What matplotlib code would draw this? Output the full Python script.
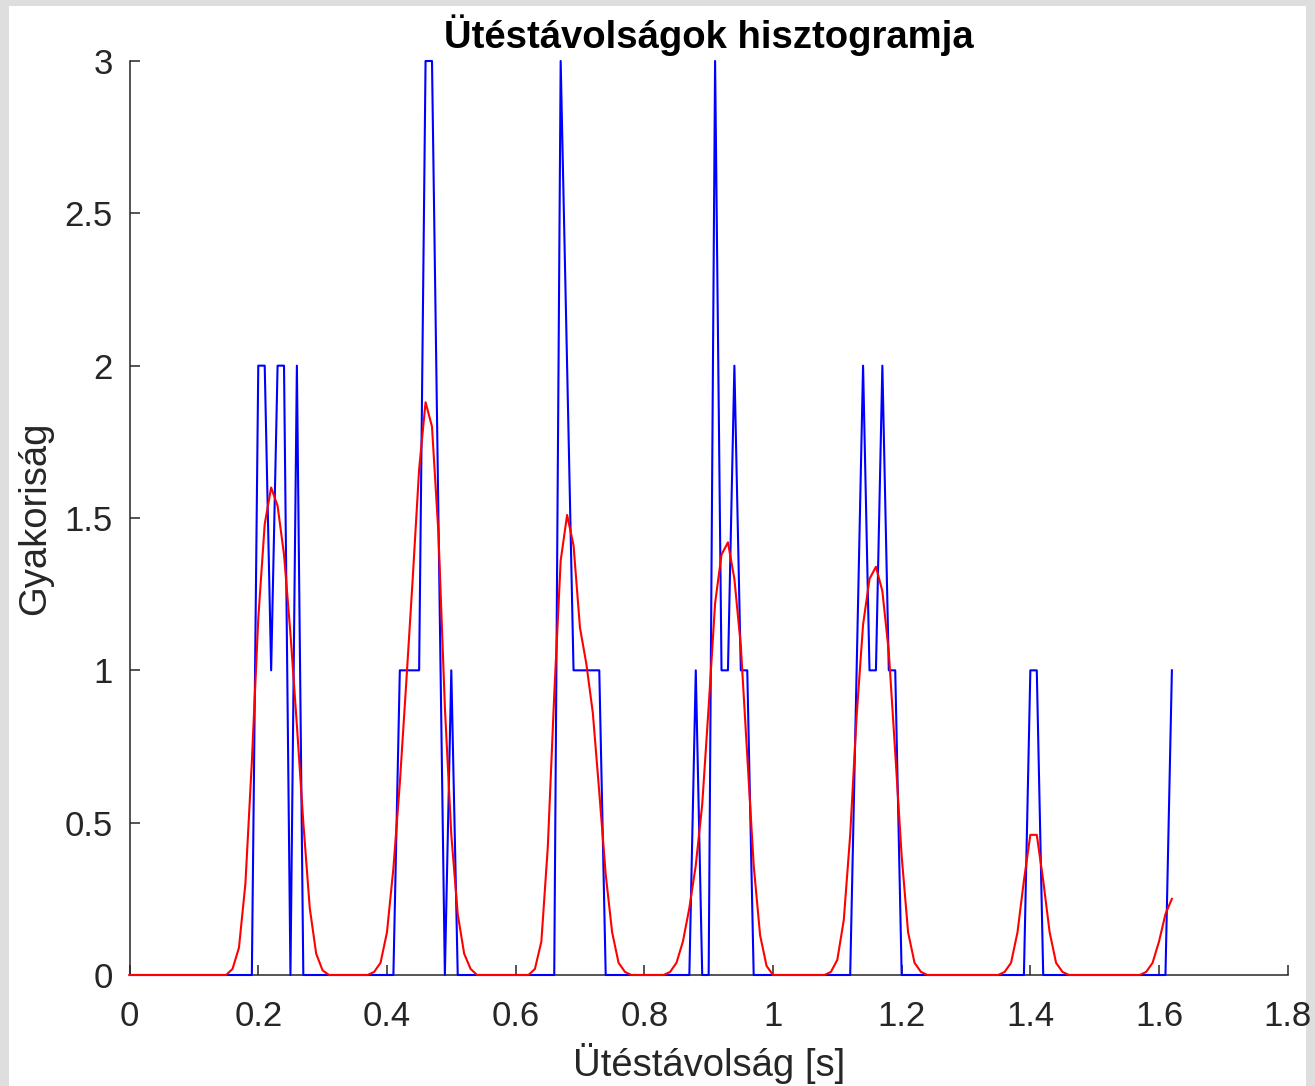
import numpy as np
import matplotlib
matplotlib.use("Agg")
import matplotlib.pyplot as plt
from matplotlib.patches import Rectangle

# ---- data (bin positions every 0.01 s from 0 to 1.62 s) ----
bin_start = 0.0
bin_step = 0.01
n_bins = 163

hist_counts = [
    0, 0, 0, 0, 0, 0, 0, 0, 0, 0,
    0, 0, 0, 0, 0, 0, 0, 0, 0, 0,
    2, 2, 1, 2, 2, 0, 2, 0, 0, 0,
    0, 0, 0, 0, 0, 0, 0, 0, 0, 0,
    0, 0, 1, 1, 1, 1, 3, 3, 1.5, 0,
    1, 0, 0, 0, 0, 0, 0, 0, 0, 0,
    0, 0, 0, 0, 0, 0, 0, 3, 2, 1,
    1, 1, 1, 1, 0, 0, 0, 0, 0, 0,
    0, 0, 0, 0, 0, 0, 0, 0, 1, 0,
    0, 3, 1, 1, 2, 1, 1, 0, 0, 0,
    0, 0, 0, 0, 0, 0, 0, 0, 0, 0,
    0, 0, 0, 1, 2, 1, 1, 2, 1, 1,
    0, 0, 0, 0, 0, 0, 0, 0, 0, 0,
    0, 0, 0, 0, 0, 0, 0, 0, 0, 0,
    1, 1, 0, 0, 0, 0, 0, 0, 0, 0,
    0, 0, 0, 0, 0, 0, 0, 0, 0, 0,
    0, 0, 1,
]

smoothed = [
    0, 0, 0, 0, 0, 0, 0, 0, 0, 0,
    0, 0, 0, 0, 0, 0, 0.02, 0.09, 0.30, 0.70,
    1.17, 1.48, 1.60, 1.54, 1.38, 1.12, 0.82, 0.50, 0.22, 0.07,
    0.015, 0, 0, 0, 0, 0, 0, 0, 0.01, 0.04,
    0.14, 0.35, 0.63, 0.96, 1.30, 1.66, 1.88, 1.80, 1.45, 0.88,
    0.46, 0.20, 0.07, 0.02, 0, 0, 0, 0, 0, 0,
    0, 0, 0, 0.02, 0.11, 0.42, 0.92, 1.36, 1.51, 1.41,
    1.14, 1.02, 0.86, 0.60, 0.33, 0.14, 0.04, 0.01, 0, 0,
    0, 0, 0, 0, 0.01, 0.04, 0.11, 0.22, 0.36, 0.56,
    0.88, 1.22, 1.38, 1.42, 1.30, 1.08, 0.72, 0.36, 0.13, 0.03,
    0, 0, 0, 0, 0, 0, 0, 0, 0, 0.01,
    0.05, 0.18, 0.46, 0.85, 1.15, 1.30, 1.34, 1.26, 1.06, 0.73,
    0.39, 0.14, 0.04, 0.01, 0, 0, 0, 0, 0, 0,
    0, 0, 0, 0, 0, 0, 0.01, 0.04, 0.14, 0.31,
    0.46, 0.46, 0.31, 0.14, 0.04, 0.01, 0, 0, 0, 0,
    0, 0, 0, 0, 0, 0, 0, 0, 0.01, 0.04,
    0.11, 0.20, 0.25,
]

x_ticks = [0, 0.2, 0.4, 0.6, 0.8, 1.0, 1.2, 1.4, 1.6, 1.8]
x_tick_labels = ["0", "0.2", "0.4", "0.6", "0.8", "1", "1.2", "1.4", "1.6", "1.8"]
y_ticks = [0, 0.5, 1, 1.5, 2, 2.5, 3]
y_tick_labels = ["0", "0.5", "1", "1.5", "2", "2.5", "3"]

title = "Ütéstávolságok hisztogramja"
xlabel = "Ütéstávolság [s]"
ylabel = "Gyakoriság"

# ---- figure ----
plt.rcParams['font.family'] = ['Liberation Sans', 'DejaVu Sans']
W, H = 1315, 1086
fig = plt.figure(figsize=(W / 100, H / 100), dpi=100, facecolor='#dedede')
fig.patches.append(Rectangle((9 / W, 0), (1306 - 9) / W, (H - 6) / H,
                             transform=fig.transFigure, facecolor='white',
                             edgecolor='none', zorder=-10))

left, right = 129.6, 1287.7
bottom, top = 975, 61
ax = fig.add_axes([left / W, 1 - bottom / H, (right - left) / W, (bottom - top) / H])
ax.set_zorder(1)

x = np.round(bin_start + bin_step * np.arange(n_bins), 2)
ax.plot(x, hist_counts, color=(0, 0, 1), lw=1.5, clip_on=False, zorder=3)
ax.plot(x, smoothed, color=(1, 0, 0), lw=1.5, clip_on=False, zorder=4)

ax.set_xlim(0, 1.8)
ax.set_ylim(0, 3)
ax.set_xticks(x_ticks)
ax.set_xticklabels(x_tick_labels)
ax.set_yticks(y_ticks)
ax.set_yticklabels(y_tick_labels)

axcol = '#262626'
for s in ['top', 'right']:
    ax.spines[s].set_visible(False)
for s in ['left', 'bottom']:
    ax.spines[s].set_color(axcol)
    ax.spines[s].set_linewidth(1.1)

ax.tick_params(axis='both', direction='in', length=7, width=1.1, colors=axcol,
               labelsize=25, labelcolor=axcol)
ax.tick_params(axis='x', pad=18)
ax.tick_params(axis='y', pad=12)

ax.set_xlabel(xlabel, fontsize=27.5, color=axcol)
ax.xaxis.label.set_va('center')
ax.xaxis.set_label_coords(0.5, (bottom - 1063) / (bottom - top))

ax.set_ylabel(ylabel, fontsize=27.5, color=axcol)
ax.yaxis.label.set_va('center')
ax.yaxis.set_label_coords((35 - left) / (right - left), 0.5)

ax.set_title(title, fontsize=27.5, fontweight='bold', color='black',
             y=1 + (top - 35) / (bottom - top), va='center', pad=0)

fig.savefig("out.png", dpi=100, facecolor=fig.get_facecolor())
